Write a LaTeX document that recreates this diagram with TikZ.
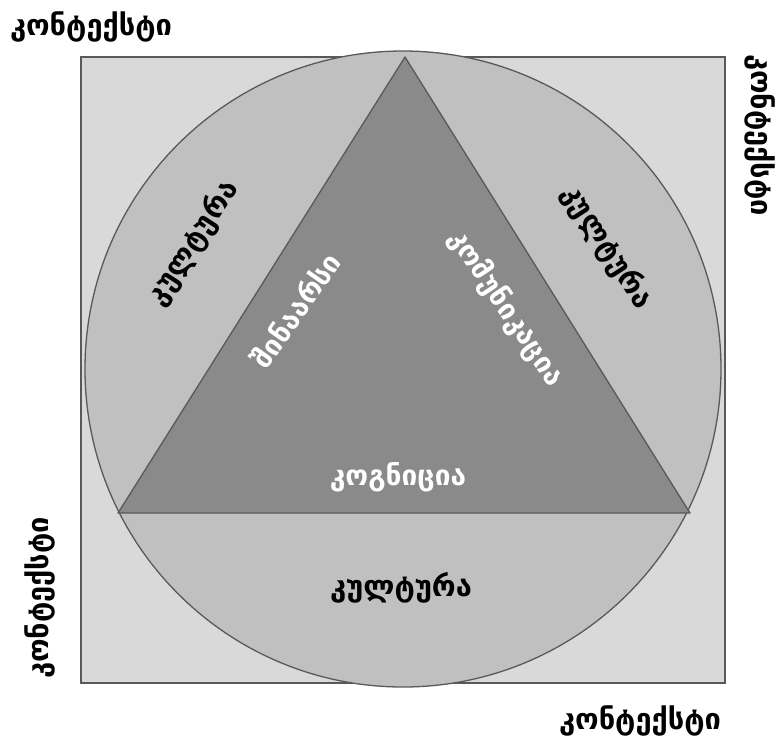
\documentclass[tikz,border=0pt]{standalone}
\usepackage{fontspec}
\newfontfamily\geo{DejaVu Sans}
\begin{document}
\begin{tikzpicture}[x=1pt,y=-1pt,
  lbl/.style={font=\geo\bfseries\fontsize{29}{32}\selectfont, text=black, inner sep=0pt},
  wlbl/.style={font=\geo\bfseries\fontsize{28}{32}\selectfont, text=white, inner sep=0pt},
  edge/.style={draw=black!65, line width=1.3pt}]
\useasboundingbox (0,0) rectangle (778,740);
\definecolor{sqfill}{RGB}{217,217,217}
\definecolor{cifill}{RGB}{192,192,192}
\definecolor{trfill}{RGB}{138,138,138}
\coordinate (sqA) at (81,57);
\coordinate (sqB) at (725,683);
\coordinate (cc) at (403,369);
\coordinate (tT) at (405,57);
\coordinate (tL) at (118,513);
\coordinate (tR) at (690,513);
\draw[edge, fill=sqfill] (sqA) rectangle (sqB);
\draw[edge, fill=cifill] (cc) circle (318);
\draw[edge, fill=trfill, line join=round] (tT) -- (tL) -- (tR) -- cycle;
\node[lbl] (c1) at (91,27) {კონტექსტი};
\node[lbl, rotate=-90] (c2) at (760,135) {კონტექსტი};
\node[lbl, rotate=90] (c3) at (40,598) {კონტექსტი};
\node[lbl] (c4) at (640,721) {კონტექსტი};
\node[lbl, rotate=57] (k1) at (193,243) {კულტურა};
\node[lbl, rotate=-57] (k2) at (607,247) {კულტურა};
\node[lbl] (k3) at (401,588) {კულტურა};
\node[wlbl, rotate=55] (s) at (295,310) {შინაარსი};
\node[wlbl, rotate=-56] (m) at (506,308) {კომუნიკაცია};
\node[wlbl] (g) at (398,477) {კოგნიცია};
\end{tikzpicture}
\end{document}
